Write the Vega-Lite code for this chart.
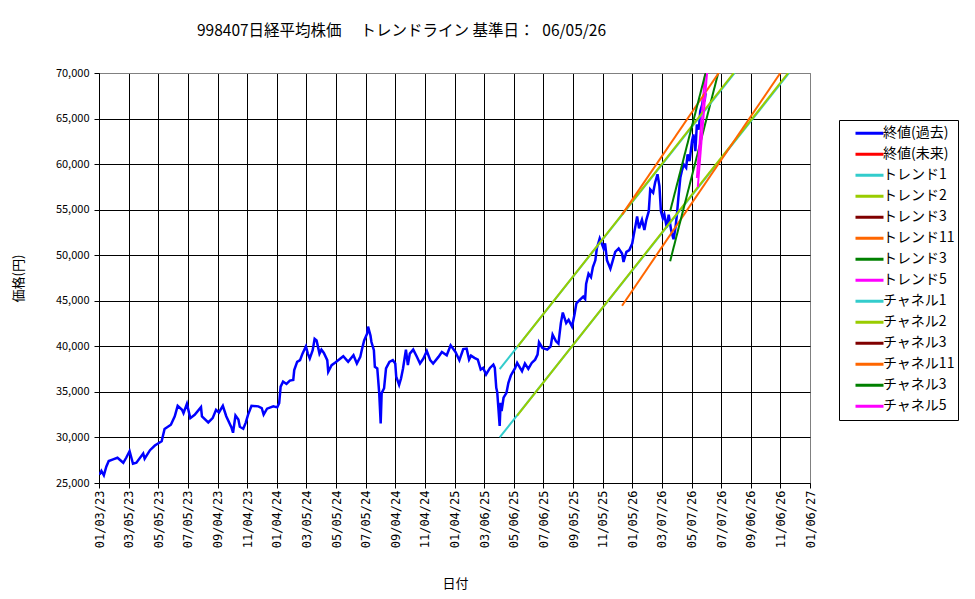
{
  "$schema": "https://vega.github.io/schema/vega-lite/v6.json",
  "width": 711,
  "height": 410,
  "autosize": {"type": "none"},
  "padding": {"left": 99, "top": 73, "right": 165, "bottom": 116},
  "background": "white",
  "title": {
    "text": "998407日経平均株価　 トレンドライン 基準日：\u200206/05/26",
    "anchor": "start",
    "frame": "group",
    "dx": 98,
    "offset": 28,
    "fontSize": 15.5,
    "font": "Noto Sans CJK JP",
    "fontWeight": "normal",
    "color": "black"
  },
  "config": {
    "view": {"stroke": "#808080", "strokeWidth": 1},
    "font": "Noto Sans CJK JP",
    "axis": {
      "domainColor": "black",
      "tickColor": "black",
      "labelColor": "black",
      "titleColor": "black",
      "gridOpacity": 1,
      "gridWidth": 1,
      "titleFontWeight": "normal",
      "titleFontSize": 13,
      "titleFont": "Noto Sans CJK JP"
    }
  },
  "datasets": {
    "close": [
      {"date": "2023-01-04", "value": 25900},
      {"date": "2023-01-08", "value": 26320},
      {"date": "2023-01-13", "value": 25850},
      {"date": "2023-01-18", "value": 26790},
      {"date": "2023-01-23", "value": 27410},
      {"date": "2023-02-01", "value": 27590},
      {"date": "2023-02-10", "value": 27770},
      {"date": "2023-02-22", "value": 27220},
      {"date": "2023-02-28", "value": 27770},
      {"date": "2023-03-07", "value": 28490},
      {"date": "2023-03-14", "value": 27110},
      {"date": "2023-03-21", "value": 27220},
      {"date": "2023-04-04", "value": 28240},
      {"date": "2023-04-07", "value": 27660},
      {"date": "2023-04-18", "value": 28600},
      {"date": "2023-04-28", "value": 29110},
      {"date": "2023-05-12", "value": 29580},
      {"date": "2023-05-18", "value": 30930},
      {"date": "2023-05-31", "value": 31400},
      {"date": "2023-06-08", "value": 32310},
      {"date": "2023-06-14", "value": 33470},
      {"date": "2023-06-23", "value": 33030},
      {"date": "2023-06-26", "value": 32670},
      {"date": "2023-07-03", "value": 33680},
      {"date": "2023-07-10", "value": 32120},
      {"date": "2023-07-19", "value": 32490},
      {"date": "2023-08-01", "value": 33320},
      {"date": "2023-08-03", "value": 32300},
      {"date": "2023-08-16", "value": 31650},
      {"date": "2023-08-25", "value": 32120},
      {"date": "2023-09-01", "value": 33030},
      {"date": "2023-09-07", "value": 32740},
      {"date": "2023-09-15", "value": 33470},
      {"date": "2023-09-22", "value": 32330},
      {"date": "2023-10-03", "value": 31060},
      {"date": "2023-10-06", "value": 30520},
      {"date": "2023-10-11", "value": 32400},
      {"date": "2023-10-17", "value": 31960},
      {"date": "2023-10-20", "value": 31170},
      {"date": "2023-10-27", "value": 30950},
      {"date": "2023-11-01", "value": 31600},
      {"date": "2023-11-06", "value": 32510},
      {"date": "2023-11-13", "value": 33480},
      {"date": "2023-11-27", "value": 33410},
      {"date": "2023-12-04", "value": 33230},
      {"date": "2023-12-08", "value": 32510},
      {"date": "2023-12-15", "value": 33160},
      {"date": "2023-12-28", "value": 33410},
      {"date": "2024-01-05", "value": 33300},
      {"date": "2024-01-09", "value": 33770},
      {"date": "2024-01-12", "value": 35580},
      {"date": "2024-01-17", "value": 36130},
      {"date": "2024-01-24", "value": 35870},
      {"date": "2024-01-31", "value": 36240},
      {"date": "2024-02-07", "value": 36310},
      {"date": "2024-02-09", "value": 37390},
      {"date": "2024-02-15", "value": 38300},
      {"date": "2024-02-21", "value": 38480},
      {"date": "2024-02-26", "value": 39200},
      {"date": "2024-03-04", "value": 40000},
      {"date": "2024-03-08", "value": 39200},
      {"date": "2024-03-12", "value": 38660},
      {"date": "2024-03-18", "value": 39570},
      {"date": "2024-03-22", "value": 40830},
      {"date": "2024-03-26", "value": 40650},
      {"date": "2024-04-01", "value": 39200},
      {"date": "2024-04-05", "value": 39640},
      {"date": "2024-04-10", "value": 39280},
      {"date": "2024-04-17", "value": 38480},
      {"date": "2024-04-19", "value": 37210},
      {"date": "2024-04-26", "value": 37930},
      {"date": "2024-05-03", "value": 38190},
      {"date": "2024-05-20", "value": 38910},
      {"date": "2024-05-27", "value": 38480},
      {"date": "2024-05-30", "value": 38300},
      {"date": "2024-06-10", "value": 39020},
      {"date": "2024-06-17", "value": 38120},
      {"date": "2024-06-24", "value": 38840},
      {"date": "2024-06-27", "value": 39570},
      {"date": "2024-07-02", "value": 40650},
      {"date": "2024-07-08", "value": 41380},
      {"date": "2024-07-10", "value": 42170},
      {"date": "2024-07-15", "value": 41190},
      {"date": "2024-07-17", "value": 40470},
      {"date": "2024-07-22", "value": 39570},
      {"date": "2024-07-24", "value": 37760},
      {"date": "2024-07-29", "value": 37570},
      {"date": "2024-08-02", "value": 34860},
      {"date": "2024-08-05", "value": 31530},
      {"date": "2024-08-07", "value": 34860},
      {"date": "2024-08-12", "value": 35400},
      {"date": "2024-08-16", "value": 37570},
      {"date": "2024-08-23", "value": 38300},
      {"date": "2024-08-30", "value": 38480},
      {"date": "2024-09-04", "value": 38120},
      {"date": "2024-09-06", "value": 36670},
      {"date": "2024-09-12", "value": 35760},
      {"date": "2024-09-16", "value": 36490},
      {"date": "2024-09-20", "value": 37570},
      {"date": "2024-09-26", "value": 39640},
      {"date": "2024-09-30", "value": 37940},
      {"date": "2024-10-04", "value": 39200},
      {"date": "2024-10-11", "value": 39640},
      {"date": "2024-10-18", "value": 38910},
      {"date": "2024-10-25", "value": 38120},
      {"date": "2024-11-01", "value": 38660},
      {"date": "2024-11-08", "value": 39490},
      {"date": "2024-11-15", "value": 38480},
      {"date": "2024-11-21", "value": 38120},
      {"date": "2024-12-02", "value": 38840},
      {"date": "2024-12-09", "value": 39380},
      {"date": "2024-12-19", "value": 39020},
      {"date": "2024-12-27", "value": 40110},
      {"date": "2025-01-06", "value": 39380},
      {"date": "2025-01-14", "value": 38480},
      {"date": "2025-01-22", "value": 39700},
      {"date": "2025-01-29", "value": 39750},
      {"date": "2025-02-03", "value": 38550},
      {"date": "2025-02-07", "value": 38980},
      {"date": "2025-02-14", "value": 38730},
      {"date": "2025-02-21", "value": 38540},
      {"date": "2025-02-27", "value": 37450},
      {"date": "2025-03-04", "value": 37630},
      {"date": "2025-03-10", "value": 36910},
      {"date": "2025-03-18", "value": 37630},
      {"date": "2025-03-25", "value": 38000},
      {"date": "2025-03-28", "value": 37630},
      {"date": "2025-03-31", "value": 35450},
      {"date": "2025-04-02", "value": 34980},
      {"date": "2025-04-07", "value": 31260},
      {"date": "2025-04-09", "value": 33810},
      {"date": "2025-04-11", "value": 32900},
      {"date": "2025-04-15", "value": 34360},
      {"date": "2025-04-21", "value": 34900},
      {"date": "2025-04-25", "value": 36000},
      {"date": "2025-04-30", "value": 36800},
      {"date": "2025-05-09", "value": 37630},
      {"date": "2025-05-13", "value": 38180},
      {"date": "2025-05-19", "value": 37630},
      {"date": "2025-05-23", "value": 37270},
      {"date": "2025-05-29", "value": 38110},
      {"date": "2025-06-05", "value": 37520},
      {"date": "2025-06-12", "value": 38180},
      {"date": "2025-06-19", "value": 38540},
      {"date": "2025-06-24", "value": 39090},
      {"date": "2025-06-27", "value": 40440},
      {"date": "2025-07-04", "value": 39820},
      {"date": "2025-07-14", "value": 39640},
      {"date": "2025-07-21", "value": 40000},
      {"date": "2025-07-25", "value": 41270},
      {"date": "2025-08-01", "value": 40550},
      {"date": "2025-08-06", "value": 40290},
      {"date": "2025-08-11", "value": 42550},
      {"date": "2025-08-15", "value": 43710},
      {"date": "2025-08-22", "value": 42550},
      {"date": "2025-08-27", "value": 42910},
      {"date": "2025-09-03", "value": 42180},
      {"date": "2025-09-08", "value": 43460},
      {"date": "2025-09-12", "value": 44730},
      {"date": "2025-09-19", "value": 45100},
      {"date": "2025-09-26", "value": 45460},
      {"date": "2025-09-30", "value": 45200},
      {"date": "2025-10-02", "value": 46850},
      {"date": "2025-10-07", "value": 47960},
      {"date": "2025-10-12", "value": 47590},
      {"date": "2025-10-16", "value": 48700},
      {"date": "2025-10-21", "value": 49440},
      {"date": "2025-10-24", "value": 50740},
      {"date": "2025-10-30", "value": 51850},
      {"date": "2025-11-03", "value": 51300},
      {"date": "2025-11-07", "value": 50740},
      {"date": "2025-11-10", "value": 51300},
      {"date": "2025-11-14", "value": 49440},
      {"date": "2025-11-21", "value": 48520},
      {"date": "2025-11-26", "value": 49440},
      {"date": "2025-12-01", "value": 50370},
      {"date": "2025-12-08", "value": 50740},
      {"date": "2025-12-15", "value": 50190},
      {"date": "2025-12-18", "value": 49260},
      {"date": "2025-12-24", "value": 50370},
      {"date": "2025-12-30", "value": 50560},
      {"date": "2026-01-05", "value": 51300},
      {"date": "2026-01-08", "value": 52220},
      {"date": "2026-01-12", "value": 53330},
      {"date": "2026-01-15", "value": 54260},
      {"date": "2026-01-19", "value": 52960},
      {"date": "2026-01-25", "value": 53890},
      {"date": "2026-01-30", "value": 52780},
      {"date": "2026-02-03", "value": 53890},
      {"date": "2026-02-08", "value": 54810},
      {"date": "2026-02-11", "value": 57220},
      {"date": "2026-02-17", "value": 56850},
      {"date": "2026-02-21", "value": 57960},
      {"date": "2026-02-26", "value": 58890},
      {"date": "2026-03-02", "value": 57590},
      {"date": "2026-03-05", "value": 54810},
      {"date": "2026-03-09", "value": 54070},
      {"date": "2026-03-12", "value": 54500},
      {"date": "2026-03-17", "value": 53030},
      {"date": "2026-03-21", "value": 54440},
      {"date": "2026-03-26", "value": 52780},
      {"date": "2026-03-31", "value": 51750},
      {"date": "2026-04-04", "value": 53030},
      {"date": "2026-04-07", "value": 54490},
      {"date": "2026-04-10", "value": 56310},
      {"date": "2026-04-14", "value": 58500},
      {"date": "2026-04-17", "value": 59230},
      {"date": "2026-04-21", "value": 59960},
      {"date": "2026-04-26", "value": 59600},
      {"date": "2026-04-29", "value": 61060},
      {"date": "2026-05-03", "value": 60330},
      {"date": "2026-05-08", "value": 62520},
      {"date": "2026-05-11", "value": 63250},
      {"date": "2026-05-15", "value": 61420},
      {"date": "2026-05-18", "value": 64340},
      {"date": "2026-05-22", "value": 63790},
      {"date": "2026-05-25", "value": 65800},
      {"date": "2026-05-29", "value": 66530},
      {"date": "2026-06-01", "value": 67630},
      {"date": "2026-06-03", "value": 66900},
      {"date": "2026-06-05", "value": 67800}
    ],
    "trend": [
      {"date": "2025-04-07", "value": 30000, "series": "トレンド1"},
      {"date": "2026-11-24", "value": 70000, "series": "トレンド1"},
      {"date": "2025-05-13", "value": 32400, "series": "トレンド2"},
      {"date": "2026-11-22", "value": 70000, "series": "トレンド2"},
      {"date": "2025-12-15", "value": 44460, "series": "トレンド11"},
      {"date": "2026-11-06", "value": 70000, "series": "トレンド11"},
      {"date": "2026-03-24", "value": 49350, "series": "トレンド3 "},
      {"date": "2026-07-01", "value": 70000, "series": "トレンド3 "},
      {"date": "2026-05-18", "value": 58480, "series": "トレンド5"},
      {"date": "2026-06-04", "value": 70000, "series": "トレンド5"},
      {"date": "2025-04-07", "value": 37500, "series": "チャネル1"},
      {"date": "2026-08-04", "value": 70000, "series": "チャネル1"},
      {"date": "2025-05-13", "value": 39900, "series": "チャネル2"},
      {"date": "2026-08-02", "value": 70000, "series": "チャネル2"},
      {"date": "2025-12-15", "value": 54460, "series": "チャネル11"},
      {"date": "2026-07-02", "value": 70000, "series": "チャネル11"},
      {"date": "2026-03-24", "value": 54830, "series": "チャネル3 "},
      {"date": "2026-06-05", "value": 70000, "series": "チャネル3 "},
      {"date": "2026-05-20", "value": 57500, "series": "チャネル5"},
      {"date": "2026-06-08", "value": 70000, "series": "チャネル5"}
    ]
  },
  "encoding": {
    "x": {
      "field": "date",
      "type": "temporal",
      "scale": {
        "type": "utc",
        "domain": [
          {"year": 2023, "month": 1, "date": 3, "utc": true},
          {"year": 2027, "month": 1, "date": 6, "utc": true}
        ]
      },
      "axis": {
        "values": [
          {"year": 2023, "month": 1, "date": 3, "utc": true},
          {"year": 2023, "month": 3, "date": 5, "utc": true},
          {"year": 2023, "month": 5, "date": 5, "utc": true},
          {"year": 2023, "month": 7, "date": 5, "utc": true},
          {"year": 2023, "month": 9, "date": 4, "utc": true},
          {"year": 2023, "month": 11, "date": 4, "utc": true},
          {"year": 2024, "month": 1, "date": 4, "utc": true},
          {"year": 2024, "month": 3, "date": 5, "utc": true},
          {"year": 2024, "month": 5, "date": 5, "utc": true},
          {"year": 2024, "month": 7, "date": 5, "utc": true},
          {"year": 2024, "month": 9, "date": 4, "utc": true},
          {"year": 2024, "month": 11, "date": 4, "utc": true},
          {"year": 2025, "month": 1, "date": 4, "utc": true},
          {"year": 2025, "month": 3, "date": 6, "utc": true},
          {"year": 2025, "month": 5, "date": 6, "utc": true},
          {"year": 2025, "month": 7, "date": 6, "utc": true},
          {"year": 2025, "month": 9, "date": 5, "utc": true},
          {"year": 2025, "month": 11, "date": 5, "utc": true},
          {"year": 2026, "month": 1, "date": 5, "utc": true},
          {"year": 2026, "month": 3, "date": 7, "utc": true},
          {"year": 2026, "month": 5, "date": 7, "utc": true},
          {"year": 2026, "month": 7, "date": 7, "utc": true},
          {"year": 2026, "month": 9, "date": 6, "utc": true},
          {"year": 2026, "month": 11, "date": 6, "utc": true},
          {"year": 2027, "month": 1, "date": 6, "utc": true}
        ],
        "labelExpr": "utcFormat(datum.value, '%m/%d/%y')",
        "labelAngle": -90,
        "labelFlush": false,
        "labelOverlap": false,
        "labelBound": false,
        "labelFont": "DejaVu Sans Mono",
        "labelFontSize": 12,
        "labelPadding": 2,
        "tickSize": 5,
        "grid": true,
        "gridColor": {"condition": {"test": "datum.value > 1798000000000", "value": "#808080"}, "value": "black"},
        "title": "日付",
        "titleX": 356,
        "titleY": 100,
        "titleBaseline": "middle"
      }
    },
    "y": {
      "field": "value",
      "type": "quantitative",
      "scale": {"domain": [25000, 70000], "nice": false, "zero": false},
      "axis": {
        "values": [25000, 30000, 35000, 40000, 45000, 50000, 55000, 60000, 65000, 70000],
        "format": ",d",
        "labelFont": "Noto Sans CJK JP",
        "labelFontSize": 11,
        "labelPadding": 5,
        "tickSize": 5,
        "grid": true,
        "gridColor": {"condition": {"test": "datum.value >= 70000", "value": "#808080"}, "value": "black"},
        "title": "価格(円)",
        "titleX": -81,
        "titleY": 205,
        "titleBaseline": "middle"
      }
    },
    "color": {
      "field": "series",
      "type": "nominal",
      "scale": {
        "domain": ["終値(過去)", "終値(未来)", "トレンド1", "トレンド2", "トレンド3", "トレンド11", "トレンド3 ", "トレンド5", "チャネル1", "チャネル2", "チャネル3", "チャネル11", "チャネル3 ", "チャネル5"],
        "range": ["#0000FF", "#FF0000", "#33CCCC", "#99CC00", "#800000", "#FF6600", "#008000", "#FF00FF", "#33CCCC", "#99CC00", "#800000", "#FF6600", "#008000", "#FF00FF"]
      },
      "legend": {
        "orient": "none",
        "legendX": 740,
        "legendY": 47,
        "title": null,
        "symbolType": "stroke",
        "symbolSize": 784,
        "symbolStrokeWidth": 3,
        "labelFont": "Noto Sans CJK JP",
        "labelFontSize": 14,
        "labelColor": "black",
        "strokeColor": "black",
        "fillColor": "white",
        "padding": 3,
        "clipHeight": 20.3,
        "symbolOffset": 12,
        "labelOffset": -2,
        "rowPadding": 0
      }
    }
  },
  "layer": [
    {
      "data": {"name": "close"},
      "transform": [{"calculate": "'終値(過去)'", "as": "series"}],
      "mark": {"type": "line", "strokeWidth": 2.5, "clip": true}
    },
    {
      "data": {"name": "trend"},
      "mark": {"type": "line", "strokeWidth": 2, "clip": true}
    }
  ]
}
